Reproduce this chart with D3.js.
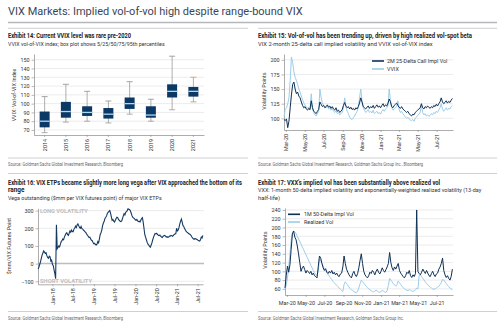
<!DOCTYPE html>
<html>
<head>
<meta charset="utf-8">
<script src="https://cdn.jsdelivr.net/npm/d3@7"></script>
<style>
  body { margin: 0; background: #fff; }
  svg text { font-family: Roboto, 'Liberation Sans', sans-serif; }
</style>
</head>
<body>
<svg id="chart" width="500" height="323"></svg>
<script>
// Exhibit 14 - VVIX percentiles per year
const years = ["2014", "2015", "2016", "2017", "2018", "2019", "2020", "2021"];
const p05 = [67, 79, 80, 78, 88, 80, 93, 102];
const p25 = [73, 84, 86, 83, 94, 84, 107, 108];
const p50 = [80, 91, 90, 88, 100, 87, 114, 114];
const p75 = [91, 102, 97, 95, 107, 97, 122, 119];
const p95 = [108, 122, 114, 103, 125, 105, 154, 130];

// Exhibit 15 / 17 - one value every 4 days from 24 Feb 2020
const volStart = "2020-02-24";
const volStep = 4;
const callVol25 = [
  98, 96, 99, 84, 95, 118, 140, 158, 162, 150,
  142, 145, 138, 135, 128, 122, 118, 120, 116, 114,
  117, 115, 130, 118, 112, 110, 108, 112, 115, 128,
  124, 120, 122, 118, 120, 123, 119, 121, 117, 120,
  116, 114, 118, 112, 114, 110, 112, 115, 122, 127,
  121, 118, 120, 116, 119, 115, 117, 114, 118, 116,
  120, 126, 135, 128, 120, 118, 116, 119, 121, 117,
  120, 118, 122, 117, 120, 123, 119, 121, 118, 122,
  125, 120, 123, 121, 126, 133, 128, 120, 118, 122,
  124, 126, 122, 119, 117, 120, 116, 114, 112, 110,
  112, 108, 106, 104, 107, 106, 110, 112, 114, 116,
  118, 125, 118, 116, 120, 118, 121, 119, 117, 120,
  118, 122, 120, 124, 121, 125, 128, 135, 128, 125,
  127, 130, 126, 129, 127, 131, 134
];
const vvix = [
  102, 115, 118, 125, 135, 165, 205, 195, 180, 170,
  165, 158, 150, 145, 138, 132, 126, 122, 120, 117,
  118, 114, 142, 118, 110, 106, 104, 108, 112, 150,
  135, 126, 122, 120, 118, 121, 116, 119, 114, 117,
  112, 110, 113, 108, 110, 106, 108, 110, 118, 135,
  120, 112, 108, 102, 99, 98, 101, 104, 108, 112,
  118, 135, 150, 130, 118, 114, 110, 112, 115, 110,
  112, 109, 114, 108, 110, 112, 108, 110, 107, 112,
  115, 112, 116, 118, 122, 150, 130, 118, 114, 116,
  118, 120, 130, 115, 110, 112, 108, 105, 102, 100,
  102, 99, 97, 96, 98, 95, 100, 102, 105, 107,
  110, 122, 110, 106, 108, 104, 106, 103, 105, 108,
  106, 110, 108, 112, 110, 114, 118, 125, 116, 112,
  115, 118, 114, 117, 116, 120, 122
];
const implVol50 = [
  62, 90, 112, 98, 115, 150, 185, 192, 178, 172,
  158, 140, 120, 100, 108, 112, 104, 96, 102, 99,
  95, 100, 92, 96, 90, 88, 85, 110, 135, 130,
  118, 108, 102, 106, 98, 95, 100, 96, 102, 94,
  98, 92, 96, 90, 88, 94, 96, 110, 135, 118,
  105, 98, 92, 88, 85, 95, 100, 92, 88, 95,
  108, 125, 140, 118, 100, 92, 88, 85, 90, 98,
  95, 102, 98, 92, 100, 105, 98, 94, 100, 108,
  102, 98, 104, 110, 118, 143, 120, 108, 102, 110,
  105, 112, 118, 102, 96, 92, 88, 85, 90, 98,
  95, 102, 90, 86, 92, 88, 95, 240, 100, 95,
  92, 98, 105, 100, 95, 102, 96, 90, 88, 95,
  100, 92, 88, 94, 96, 105, 110, 118, 130, 102,
  92, 86, 90, 84, 80, 88, 105
];
const realVol = [
  60, 68, 85, 110, 140, 170, 188, 192, 190, 186,
  180, 174, 168, 162, 156, 150, 144, 138, 132, 126,
  120, 114, 108, 102, 97, 93, 90, 100, 128, 124,
  118, 112, 107, 102, 97, 93, 89, 85, 81, 77,
  74, 71, 68, 65, 62, 59, 56, 54, 70, 76,
  72, 68, 64, 61, 58, 56, 54, 52, 51, 55,
  62, 72, 80, 77, 73, 69, 66, 63, 60, 58,
  56, 54, 53, 55, 57, 55, 53, 52, 54, 56,
  55, 53, 52, 56, 68, 84, 80, 76, 72, 69,
  66, 70, 78, 74, 70, 66, 63, 60, 58, 57,
  56, 58, 57, 55, 54, 56, 58, 62, 60, 90,
  92, 88, 84, 80, 76, 72, 69, 66, 64, 62,
  60, 59, 60, 62, 64, 66, 70, 74, 82, 80,
  76, 72, 68, 65, 62, 60, 58
];
const volTicks = ["2020-03-01", "2020-05-01", "2020-07-01", "2020-09-01", "2020-11-01",
                  "2021-01-01", "2021-03-01", "2021-05-01", "2021-07-01"];

// Exhibit 16 - weekly vega outstanding from 28 Aug 2017
const vegaStart = "2017-08-28";
const vegaStep = 7;
const vega = [
  -30, -20, -5, 10, 30, 48, 60, 72, 65, 58,
  62, 45, 35, 30, 42, 38, 15, 20, -5, -10,
  -35, -55, -85, 220, 85, 92, 100, 95, 110, 125,
  130, 140, 135, 150, 160, 170, 175, 165, 160, 172,
  185, 178, 190, 182, 180, 195, 200, 212, 205, 218,
  225, 215, 205, 200, 210, 198, 195, 190, 185, 180,
  175, 168, 160, 155, 148, 150, 140, 132, 130, 120,
  112, 115, 108, 105, 110, 125, 118, 140, 165, 175,
  190, 215, 230, 240, 255, 262, 270, 285, 290, 295,
  300, 285, 265, 245, 250, 240, 235, 245, 255, 262,
  260, 250, 245, 240, 238, 242, 255, 270, 282, 275,
  290, 294, 300, 310, 308, 305, 298, 285, 270, 262,
  258, 255, 248, 245, 250, 242, 238, 240, 235, 245,
  255, 260, 235, 200, 165, 150, 135, 120, 110, 105,
  98, 93, 105, 118, 135, 150, 160, 170, 168, 172,
  165, 160, 158, 162, 155, 150, 148, 155, 158, 160,
  155, 150, 152, 148, 150, 156, 155, 160, 158, 155,
  160, 165, 168, 170, 200, 185, 190, 205, 225, 240,
  252, 235, 215, 210, 198, 190, 182, 178, 175, 170,
  168, 165, 160, 152, 145, 140, 138, 142, 140, 138,
  135, 132, 130, 128, 135, 150, 145, 160
];
const vegaTicks = ["2018-01-01", "2018-07-01", "2019-01-01", "2019-07-01",
                   "2020-01-01", "2020-07-01", "2021-01-01", "2021-07-01"];

// Styles
//////////////////////////////////////////////////////////////////////
const navy = "#0e2f56";
const lightBlue = "#9ccde8";
const boxBlue = "#0c3866";
const gridCol = "#e3e3e3";
const axisCol = "#8a8a8a";
const tickFont = 5.4;

const svg = d3.select("#chart");
const parse = d3.timeParse("%Y-%m-%d");
const fmt = d3.timeFormat("%b-%y");

// text helper; "len" squeezes the text horizontally to a given width
function text(x, y, s, size, opts = {}) {
  const g = svg.append("g").attr("transform", `translate(${x},${y})`);
  const t = g.append("text")
    .attr("font-size", size)
    .attr("fill", opts.fill || "#222")
    .attr("font-weight", opts.bold ? "bold" : null)
    .text(s);
  if (opts.len) {
    const w = t.node().getComputedTextLength();
    g.attr("transform", `translate(${x},${y}) scale(${opts.len / w},1)`);
  }
  return t;
}
function hline(x1, x2, y, col, w) {
  svg.append("line").attr("x1", x1).attr("x2", x2).attr("y1", y).attr("y2", y)
    .attr("stroke", col).attr("stroke-width", w);
}
function styleAxis(g) {
  g.select(".domain").attr("stroke", axisCol).attr("stroke-width", 0.7);
  g.selectAll(".tick line").attr("stroke", axisCol).attr("stroke-width", 0.6);
  g.selectAll("text").attr("font-size", tickFont).attr("fill", "#333")
    .attr("font-family", "Roboto, 'Liberation Sans', sans-serif");
}
function rotateLabels(g) {
  g.selectAll(".tick text")
    .attr("transform", "rotate(-90)")
    .attr("text-anchor", "end")
    .attr("x", -4).attr("y", 0).attr("dy", "0.35em");
}
function grid(y, values, x1, x2) {
  svg.append("g").selectAll("line").data(values).join("line")
    .attr("x1", x1).attr("x2", x2)
    .attr("y1", d => y(d)).attr("y2", d => y(d))
    .attr("stroke", gridCol).attr("stroke-width", 0.7);
}
function yTitle(x, y, s) {
  svg.append("text").attr("transform", `translate(${x},${y}) rotate(-90)`)
    .attr("text-anchor", "middle").attr("font-size", tickFont).attr("fill", "#333").text(s);
}

// Page frame
//////////////////////////////////////////////////////////////////////
text(8, 15, "VIX Markets: Implied vol-of-vol high despite range-bound VIX", 10.8,
  { fill: "#3a4656", len: 295 });
hline(8, 497, 22.5, "#b4b8bc", 1.6);
hline(8, 248, 28.3, "#c4c4c4", 0.8);
hline(258, 497, 28.3, "#c4c4c4", 0.8);
hline(8, 248, 158, "#c4c4c4", 0.8);
hline(258, 497, 158, "#c4c4c4", 0.8);
hline(8, 248, 173.5, "#c4c4c4", 0.8);
hline(258, 497, 173.5, "#c4c4c4", 0.8);
hline(8, 248, 311.5, "#c4c4c4", 0.8);
hline(258, 497, 311.5, "#c4c4c4", 0.8);

text(8, 37.5, "Exhibit 14: Current VVIX level was rare pre-2020", 6.4, { bold: true, len: 123 });
text(8, 45.5, "VVIX vol-of-VIX index; box plot shows 5/25/50/75/95th percentiles", 6, { fill: "#333", len: 157 });
text(258, 37.5, "Exhibit 15: Vol-of-vol has been trending up, driven by high realized vol-spot beta", 6.4, { bold: true, len: 214 });
text(258, 45.5, "VIX 2-month 25-delta call implied volatility and VVIX vol-of-VIX index", 6, { fill: "#333", len: 175 });
text(8, 166, "Source: Goldman Sachs Global Investment Research, Bloomberg", 4.6, { fill: "#666", len: 115 });
text(258, 166, "Source: Goldman Sachs Global Investment Research, Goldman Sachs Group Inc., Bloomberg", 4.6, { fill: "#666", len: 165 });
text(8, 184.5, "Exhibit 16: VIX ETPs became slightly more long vega after VIX approached the bottom of its", 6.4, { bold: true, len: 234 });
text(8, 191.8, "range", 6.4, { bold: true });
text(8, 199.5, "Vega outstanding ($mm per VIX futures point) of major VIX ETPs", 6, { fill: "#333", len: 154 });
text(258, 184.5, "Exhibit 17: VXX's implied vol has been substantially above realized vol", 6.4, { bold: true, len: 182 });
text(258, 192, "VXX: 1-month 50-delta implied volatility and exponentially-weighted realized volatility (13-day", 6, { fill: "#333", len: 224 });
text(258, 199.5, "half-life)", 6, { fill: "#333" });
text(8, 319.5, "Source: Goldman Sachs Global Investment Research, Bloomberg", 4.6, { fill: "#666", len: 115 });
text(258, 319.5, "Source: Goldman Sachs Global Investment Research, Goldman Sachs Group Inc.", 4.6, { fill: "#666", len: 146 });

// Exhibit 14: box plot
//////////////////////////////////////////////////////////////////////
const x1 = d3.scaleBand(years, [34, 204]);
const y1 = d3.scaleLinear([64.3, 156.5], [135, 54]);
grid(y1, d3.range(70, 151, 10), 34, 204);
svg.append("g").attr("transform", "translate(34,0)")
  .call(d3.axisLeft(y1).tickValues(d3.range(70, 151, 10)).tickSize(2.5).tickSizeOuter(0).tickPadding(2))
  .call(styleAxis);
svg.append("g").attr("transform", "translate(0,135)")
  .call(d3.axisBottom(x1).tickSize(2).tickSizeOuter(0))
  .call(styleAxis).call(rotateLabels);
yTitle(16, 95, "VVIX: Vol-of-VIX Index");

const boxW = 10, capW = 6;
const boxes = svg.append("g").selectAll("g").data(years).join("g")
  .attr("transform", d => `translate(${x1(d) + x1.bandwidth() / 2},0)`);
boxes.append("line").attr("y1", (d, i) => y1(p05[i])).attr("y2", (d, i) => y1(p95[i]))
  .attr("stroke", "#9a9a9a").attr("stroke-width", 0.8);
boxes.append("line").attr("x1", -capW / 2).attr("x2", capW / 2)
  .attr("y1", (d, i) => y1(p05[i])).attr("y2", (d, i) => y1(p05[i]))
  .attr("stroke", "#9a9a9a").attr("stroke-width", 0.8);
boxes.append("line").attr("x1", -capW / 2).attr("x2", capW / 2)
  .attr("y1", (d, i) => y1(p95[i])).attr("y2", (d, i) => y1(p95[i]))
  .attr("stroke", (d, i) => i === years.length - 1 ? "#e89a5a" : "#9a9a9a").attr("stroke-width", 0.9);
boxes.append("rect").attr("x", -boxW / 2).attr("width", boxW)
  .attr("y", (d, i) => y1(p75[i])).attr("height", (d, i) => y1(p25[i]) - y1(p75[i]))
  .attr("fill", boxBlue);
boxes.append("line").attr("x1", -boxW / 2).attr("x2", boxW / 2)
  .attr("y1", (d, i) => y1(p50[i])).attr("y2", (d, i) => y1(p50[i]))
  .attr("stroke", "#a6dcf5").attr("stroke-width", 1.3);

// Exhibit 15: vol-of-vol lines
//////////////////////////////////////////////////////////////////////
const volDates = callVol25.map((d, i) => d3.timeDay.offset(parse(volStart), i * volStep));
const x2 = d3.scaleTime([parse("2020-02-24"), parse("2021-08-23")], [284, 453]);
const y2 = d3.scaleLinear([80, 210], [130, 54]);
grid(y2, [100, 125, 150, 175, 200], 284, 453);
svg.append("g").attr("transform", "translate(284,0)")
  .call(d3.axisLeft(y2).tickValues([100, 125, 150, 175, 200]).tickSize(2.5).tickSizeOuter(0).tickPadding(2))
  .call(styleAxis);
svg.append("g").attr("transform", "translate(0,130)")
  .call(d3.axisBottom(x2).tickValues(volTicks.map(parse)).tickFormat(fmt).tickSize(2).tickSizeOuter(0))
  .call(styleAxis).call(rotateLabels);
yTitle(266, 91, "Volatility Points");

const line2 = d3.line().x((d, i) => x2(volDates[i])).y(d => y2(d));
svg.append("path").attr("d", line2(vvix)).attr("fill", "none")
  .attr("stroke", lightBlue).attr("stroke-width", 1);
svg.append("path").attr("d", line2(callVol25)).attr("fill", "none")
  .attr("stroke", navy).attr("stroke-width", 1);

hline(372, 384, 61, navy, 1.6);
text(387, 63, "2M 25-Delta Call Impl Vol", tickFont, { fill: "#333" });
hline(372, 384, 69, lightBlue, 1.6);
text(387, 71, "VVIX", tickFont, { fill: "#333" });

// Exhibit 16: vega outstanding
//////////////////////////////////////////////////////////////////////
const vegaDates = vega.map((d, i) => d3.timeDay.offset(parse(vegaStart), i * vegaStep));
const x3 = d3.scaleTime([parse("2017-08-27"), parse("2021-08-17")], [38, 203]);
const y3 = d3.scaleLinear([-117, 313], [284.3, 208.3]);
grid(y3, [-100, 100, 200, 300], 38, 204);
hline(38, 204, y3(0), "#bdbdbd", 1.5);
svg.append("g").attr("transform", "translate(38,0)")
  .call(d3.axisLeft(y3).tickValues([-100, 0, 100, 200, 300]).tickSize(2.5).tickSizeOuter(0).tickPadding(2))
  .call(styleAxis);
svg.append("g").attr("transform", "translate(0,284.3)")
  .call(d3.axisBottom(x3).tickValues(vegaTicks.map(parse)).tickFormat(fmt).tickSize(2).tickSizeOuter(0))
  .call(styleAxis).call(rotateLabels);
yTitle(11, 246, "$mm/VIX Futures Point");
text(40, y3(300) + 2, "LONG VOLATILITY", 5.4, { fill: "#bdbdbd", bold: true, len: 48 });
text(40, y3(-100) + 2, "SHORT VOLATILITY", 5.4, { fill: "#bdbdbd", bold: true, len: 52 });

const line3 = d3.line().x((d, i) => x3(vegaDates[i])).y(d => y3(d));
svg.append("path").attr("d", line3(vega)).attr("fill", "none")
  .attr("stroke", "#133a63").attr("stroke-width", 1.1);

// Exhibit 17: VXX implied vs realized
//////////////////////////////////////////////////////////////////////
const x4 = d3.scaleTime([parse("2020-02-24"), parse("2021-08-23")], [285, 453]);
const y4 = d3.scaleLinear([46, 244.5], [295, 208]);
grid(y4, d3.range(60, 241, 20), 285, 453);
svg.append("g").attr("transform", "translate(285,0)")
  .call(d3.axisLeft(y4).tickValues(d3.range(60, 241, 20)).tickSize(2.5).tickSizeOuter(0).tickPadding(2))
  .call(styleAxis);
svg.append("g").attr("transform", "translate(0,295)")
  .call(d3.axisBottom(x4).tickValues(volTicks.map(parse)).tickFormat(fmt).tickSize(2).tickSizeOuter(0).tickPadding(4))
  .call(styleAxis);
yTitle(267, 250, "Volatility Points");

const line4 = d3.line().x((d, i) => x4(volDates[i])).y(d => y4(d));
svg.append("path").attr("d", line4(realVol)).attr("fill", "none")
  .attr("stroke", lightBlue).attr("stroke-width", 1);
svg.append("path").attr("d", line4(implVol50)).attr("fill", "none")
  .attr("stroke", navy).attr("stroke-width", 1);

hline(288, 300, 214.3, navy, 1.6);
text(304, 216.3, "1M 50-Delta Impl Vol", tickFont, { fill: "#333" });
hline(288, 300, 222, lightBlue, 1.6);
text(304, 224, "Realized Vol", tickFont, { fill: "#333" });
</script>
</body>
</html>
